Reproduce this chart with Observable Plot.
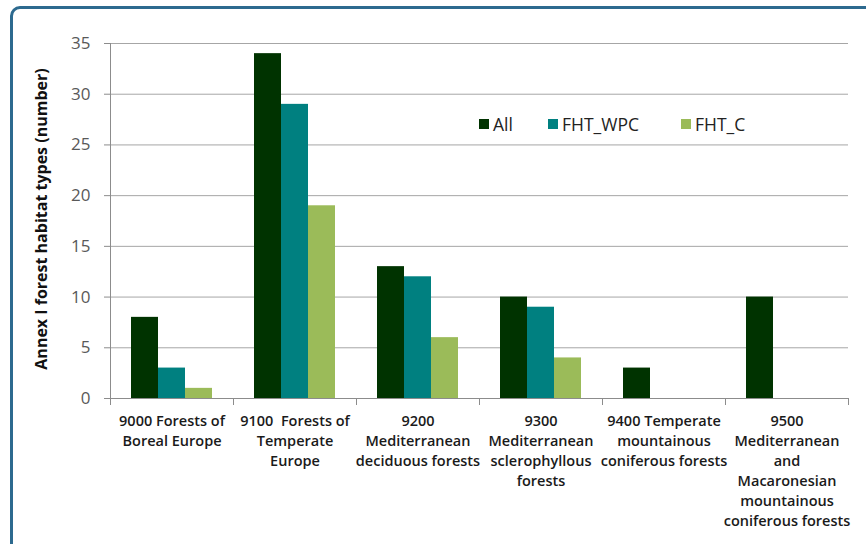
<!DOCTYPE html>
<html>
<head>
<meta charset="utf-8">
<script src="https://cdn.jsdelivr.net/npm/d3@7"></script>
<script src="https://cdn.jsdelivr.net/npm/@observablehq/plot@0.6"></script>
<style>
  html, body { margin: 0; padding: 0; background: #fff; overflow: hidden; }
  #wrap { position: relative; width: 866px; height: 544px; overflow: hidden; background: #fff; }
  #border { position: absolute; left: 10px; top: 6px; width: 900px; height: 600px;
            border: 3px solid #2d6a8f; border-radius: 10px; box-sizing: border-box; }
  #chart { position: absolute; left: 0; top: 0; }
  #ylabel { position: absolute; left: 41px; top: 219px; transform: translate(-50%, -50%) rotate(-90deg);
            white-space: nowrap; font: bold 16px "Open Sans", sans-serif; color: #111; }
  #legend { position: absolute; left: 479px; top: 112px; width: 300px; height: 24px;
            font: 17.5px "Open Sans", sans-serif; color: #222; }
  #legend .item { position: absolute; top: 0; display: flex; align-items: center; height: 24px; }
  #legend .sw { width: 10px; height: 10px; margin-right: 4px; }
</style>
</head>
<body>
<div id="wrap">
  <div id="border"></div>
  <div id="chart"></div>
  <div id="ylabel"></div>
  <div id="legend"></div>
</div>
<script>
const categories = [
  "9000 Forests of\nBoreal Europe",
  "9100  Forests of\nTemperate\nEurope",
  "9200\nMediterranean\ndeciduous forests",
  "9300\nMediterranean\nsclerophyllous\nforests",
  "9400 Temperate\nmountainous\nconiferous forests",
  "9500\nMediterranean\nand\nMacaronesian\nmountainous\nconiferous forests"
];
const series = ["All", "FHT_WPC", "FHT_C"];
const colors = ["#003300", "#008080", "#9bbb59"];
const valuesAll = [8, 34, 13, 10, 3, 10];
const valuesWPC = [3, 29, 12, 9, 0, 0];
const valuesC = [1, 19, 6, 4, 0, 0];
const yTicks = [0, 5, 10, 15, 20, 25, 30, 35];
const yLabel = "Annex I forest habitat types (number)";
const legendOffsets = [0, 69, 202];

const seriesValues = [valuesAll, valuesWPC, valuesC];
const data = [];
categories.forEach((c, i) => {
  series.forEach((s, j) => {
    data.push({category: c, series: s, value: seriesValues[j][i]});
  });
});

const chart = Plot.plot({
  width: 866,
  height: 544,
  marginLeft: 110,
  marginRight: 18,
  marginTop: 43,
  marginBottom: 146,
  style: {background: "transparent", fontFamily: "'Open Sans', sans-serif"},
  fx: {domain: categories, padding: 0},
  x: {domain: series, axis: null, paddingInner: 0, paddingOuter: 0.76},
  y: {domain: [0, 35], ticks: yTicks},
  color: {domain: series, range: colors},
  marks: [
    Plot.gridY(yTicks, {stroke: "#a6a6a6", strokeOpacity: 1, strokeWidth: 1}),
    Plot.frame({anchor: "left", facetAnchor: "left", stroke: "#8c8c8c", strokeOpacity: 1}),
    Plot.frame({anchor: "left", stroke: "#8c8c8c", strokeOpacity: 1, insetTop: 355, insetBottom: -6}),
    Plot.frame({anchor: "right", facetAnchor: "right", stroke: "#8c8c8c", strokeOpacity: 1, insetTop: 355, insetBottom: -6}),
    Plot.barY(data.filter(d => d.value > 0), {fx: "category", x: "series", y: "value", fill: "series"}),
    Plot.ruleY([0], {stroke: "#8c8c8c"}),
    Plot.axisY(yTicks, {anchor: "left", tickSize: 6, tickPadding: 14, fontSize: 17, fill: "#595959", stroke: "#8c8c8c", label: null}),
    Plot.axisFx({anchor: "bottom", tickSize: 0, tickPadding: 13, fontSize: 14.5, fontWeight: 600, lineHeight: 1.38, fill: "#1a1a1a", label: null, lineAnchor: "top"})
  ]
});
document.getElementById("chart").appendChild(chart);

document.getElementById("ylabel").textContent = yLabel;
const legend = document.getElementById("legend");
series.forEach((s, j) => {
  const item = document.createElement("div");
  item.className = "item";
  item.style.left = legendOffsets[j] + "px";
  const sw = document.createElement("div");
  sw.className = "sw";
  sw.style.background = colors[j];
  const t = document.createElement("span");
  t.textContent = s;
  item.appendChild(sw); item.appendChild(t);
  legend.appendChild(item);
});
</script>
</body>
</html>
